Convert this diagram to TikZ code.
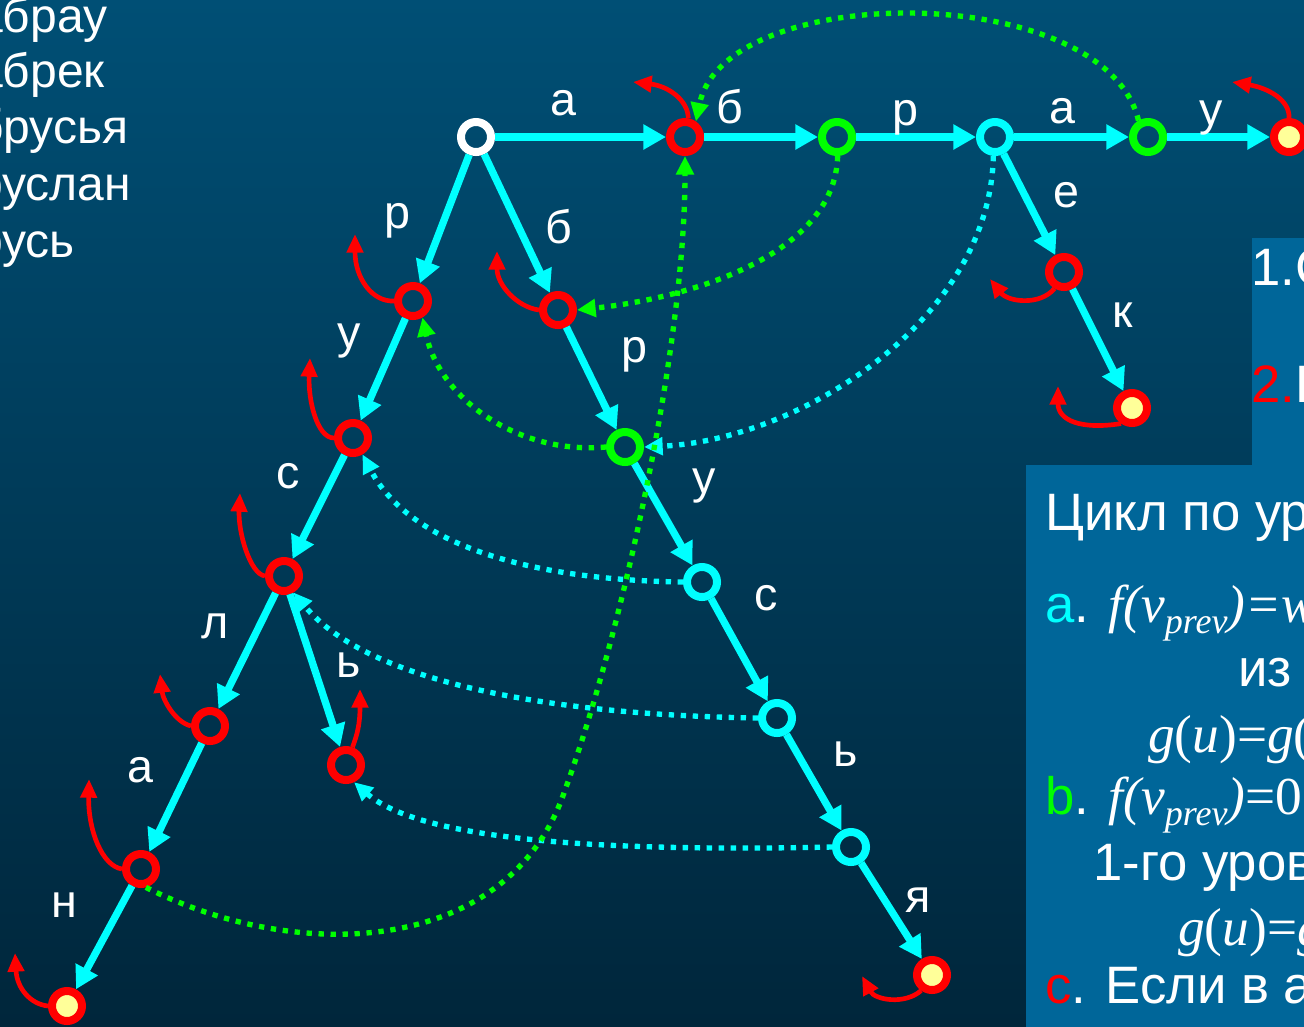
\documentclass[tikz,border=0pt]{standalone}
\usepackage{fontspec}
\setmainfont{Liberation Sans}
\newfontfamily\tms{Liberation Serif}
\usetikzlibrary{arrows.meta}
\definecolor{bgtop}{HTML}{004F75}
\definecolor{bgbot}{HTML}{00263B}
\definecolor{boxc}{HTML}{006699}
\definecolor{cy}{HTML}{00FFFF}
\definecolor{gr}{HTML}{00FF00}
\definecolor{rd}{HTML}{FF0000}
\definecolor{yl}{HTML}{FFFF99}
\newcommand\lblfont{\fontsize{35pt}{35pt}\selectfont}
\newcommand\lstfont{\fontsize{36pt}{36pt}\selectfont}
\newcommand\bxfont{\fontsize{39.5pt}{39.5pt}\selectfont}
\newcommand\mth{\tms\fontsize{40pt}{40pt}\selectfont}
\newcommand\sbs[1]{\raisebox{-8.5pt}{\fontsize{27pt}{27pt}\selectfont #1}}
\begin{document}
\begin{tikzpicture}[x=0.75pt,y=-0.75pt,
 vert/.style={circle, minimum size=22.5pt, inner sep=0pt, line width=6pt},
 wv/.style={vert, draw=white},
 rv/.style={vert, draw=rd},
 gv/.style={vert, draw=gr},
 cv/.style={vert, draw=cy},
 fv/.style={vert, draw=rd, fill=yl},
 edge/.style={draw=cy, line width=5.5pt, -{Triangle[length=17pt,width=18pt]}},
 cdot/.style={draw=cy, line width=4pt, dash pattern=on 4pt off 5pt, -{Triangle[length=14pt,width=13pt]}},
 gdot/.style={cdot, draw=gr},
 loopr/.style={draw=rd, line width=3.5pt, -{Triangle[length=14pt,width=12pt]}},
 lbl/.style={text=white, font=\lblfont, anchor=base, inner sep=0pt},
 lst/.style={text=white, font=\lstfont, anchor=base west, inner sep=0pt},
 btxt/.style={text=white, font=\bxfont, anchor=base west, inner sep=0pt},
 panel/.style={fill=boxc, draw=none}
]
\useasboundingbox (0,0) rectangle (1304,1026);
\clip (0,0) rectangle (1304,1026);
\shade[top color=bgtop, bottom color=bgbot] (0,0) rectangle (1304,1026);

% panels
\fill[panel] (1252,238) rectangle (1310,466);
\fill[panel] (1026,465) rectangle (1310,1030);

% word list
\node[lst] (w1) at (-24,32) {абрау};
\node[lst] (w2) at (-24,87) {абрек};
\node[lst] (w3) at (-24,143) {брусья};
\node[lst] (w4) at (-24,200) {руслан};
\node[lst] (w5) at (-24,257) {русь};

% panel texts
\node[btxt] (p1) at (1251,285) {1.С};
\node[btxt] (p2) at (1251,402) {\textcolor{rd}{2.}В};
\node[btxt] (q1) at (1045,530) {Цикл по ур};
\node[btxt] (q2) at (1045,622) {\textcolor{cy}{a}. {\mth\itshape f(v\sbs{prev})=w}};
\node[btxt] (q3) at (1238,686) {из};
\node[btxt] (q4) at (1148,752) {{\mth\itshape g}{\mth(}{\mth\itshape u}{\mth)=}{\mth\itshape g}{\mth(}};
\node[btxt] (q5) at (1045,814) {\textcolor{gr}{b}. {\mth\itshape f(v\sbs{prev})}{\mth =0.}};
\node[btxt] (q6) at (1093,880) {1-го уров};
\node[btxt] (q7) at (1178,945) {{\mth\itshape g}{\mth(}{\mth\itshape u}{\mth)=}{\mth\itshape g}};
\node[btxt] (q8) at (1045,1003) {\textcolor{rd}{c}. Если в а};

% vertices
\node[wv] (root) at (476,137) {};
\node[rv] (B1) at (685,137) {};
\node[gv] (G1) at (837,137) {};
\node[cv] (C1) at (995,137) {};
\node[gv] (G2) at (1148,137) {};
\node[fv] (F1) at (1289,137) {};
\node[rv] (E1) at (1064,272) {};
\node[fv] (K1) at (1132,408) {};
\node[rv] (Rr) at (413,301) {};
\node[rv] (Rb) at (558,310) {};
\node[gv] (Gp) at (625,447) {};
\node[cv] (Cs) at (702,582) {};
\node[cv] (Cb) at (777,718) {};
\node[cv] (Cy) at (851,847) {};
\node[fv] (Fy) at (932,975) {};
\node[rv] (Ry) at (353,438) {};
\node[rv] (Rs) at (284,576) {};
\node[rv] (Rl) at (210,726) {};
\node[rv] (Ra) at (141,869) {};
\node[fv] (Fn) at (67,1006) {};
\node[rv] (Rsb) at (346,765) {};

% solid edges
\draw[edge] (root) -- (B1);
\draw[edge] (B1) -- (G1);
\draw[edge] (G1) -- (C1);
\draw[edge] (C1) -- (G2);
\draw[edge] (G2) -- (F1);
\draw[edge] (C1) -- (E1);
\draw[edge] (E1) -- (K1);
\draw[edge] (root) -- (Rr);
\draw[edge] (root) -- (Rb);
\draw[edge] (Rb) -- (Gp);
\draw[edge] (Gp) -- (Cs);
\draw[edge] (Cs) -- (Cb);
\draw[edge] (Cb) -- (Cy);
\draw[edge] (Cy) -- (Fy);
\draw[edge] (Rr) -- (Ry);
\draw[edge] (Ry) -- (Rs);
\draw[edge] (Rs) -- (Rl);
\draw[edge] (Rl) -- (Ra);
\draw[edge] (Ra) -- (Fn);
\draw[edge] (Rs) -- (Rsb);

% edge labels
\node[lbl] (la1) at (563,115) {а};
\node[lbl] (la2) at (730,123) {б};
\node[lbl] (la3) at (905,125) {р};
\node[lbl] (la4) at (1062,123) {а};
\node[lbl] (la5) at (1211,125) {у};
\node[lbl] (la6) at (1066,207) {е};
\node[lbl] (la7) at (1123,327) {к};
\node[lbl] (la8) at (397,228) {р};
\node[lbl] (la9) at (559,243) {б};
\node[lbl] (la10) at (349,348) {у};
\node[lbl] (la11) at (634,362) {р};
\node[lbl] (la12) at (704,493) {у};
\node[lbl] (la13) at (288,488) {с};
\node[lbl] (la14) at (766,610) {с};
\node[lbl] (la15) at (215,638) {л};
\node[lbl] (la16) at (349,677) {ь};
\node[lbl] (la17) at (846,766) {ь};
\node[lbl] (la18) at (140,782) {а};
\node[lbl] (la19) at (64,917) {н};
\node[lbl] (la20) at (918,912) {я};

% cyan dotted links
\draw[cdot] (C1.-95) .. controls (990,320) and (800,440) .. (Gp.east);
\draw[cdot] (Cs.west) .. controls (530,580) and (410,545) .. (Ry.-60);
\draw[cdot] (Cb.west) .. controls (560,715) and (370,685) .. (Rs.-60);
\draw[cdot] (Cy.west) .. controls (600,852) and (420,840) .. (Rsb.-65);

% green dotted links
\coordinate (gm) at (565,790);
\draw[gdot] (G2.120) .. controls (1105,-20) and (725,-20) .. (B1.55);
\draw[gdot] (G1.-88) .. controls (835,255) and (690,298) .. (Rb.east);
\draw[gdot] (Gp.west) .. controls (520,455) and (440,400) .. (Rr.-60);
\draw[gdot] (Ra.-75) .. controls (300,965) and (510,955) .. (gm) .. controls (620,640) and (685,350) .. (B1.-90);

% red loops
\coordinate (eB1) at (633,82);
\coordinate (eF1) at (1232,82);
\coordinate (eE1) at (990,279);
\coordinate (eK1) at (1058,386);
\coordinate (eFy) at (862,976);
\coordinate (eRr) at (355,234);
\coordinate (eRb) at (497,251);
\coordinate (eRy) at (310,358);
\coordinate (eRs) at (240,493);
\coordinate (eRl) at (160,674);
\coordinate (eRa) at (89,779);
\coordinate (eFn) at (15,953);
\coordinate (eRsb) at (360,689);
\draw[loopr] (B1.80) .. controls (688,100) and (668,86) .. (eB1);
\draw[loopr] (F1.90) .. controls (1290,100) and (1268,88) .. (eF1);
\draw[loopr] (E1.-120) .. controls (1040,306) and (1008,302) .. (eE1);
\draw[loopr] (K1.-125) .. controls (1080,430) and (1058,420) .. (eK1);
\draw[loopr] (Fy.-125) .. controls (905,1005) and (875,1000) .. (eFy);
\draw[loopr] (Rr.180) .. controls (372,302) and (355,278) .. (eRr);
\draw[loopr] (Rb.180) .. controls (517,307) and (497,285) .. (eRb);
\draw[loopr] (Ry.180) .. controls (317,438) and (308,400) .. (eRy);
\draw[loopr] (Rs.180) .. controls (250,574) and (238,532) .. (eRs);
\draw[loopr] (Rl.180) .. controls (175,722) and (163,700) .. (eRl);
\draw[loopr] (Ra.180) .. controls (102,866) and (88,830) .. (eRa);
\draw[loopr] (Fn.180) .. controls (30,1004) and (17,988) .. (eFn);
\draw[loopr] (Rsb.70) .. controls (357,735) and (360,725) .. (eRsb);
\end{tikzpicture}
\end{document}
